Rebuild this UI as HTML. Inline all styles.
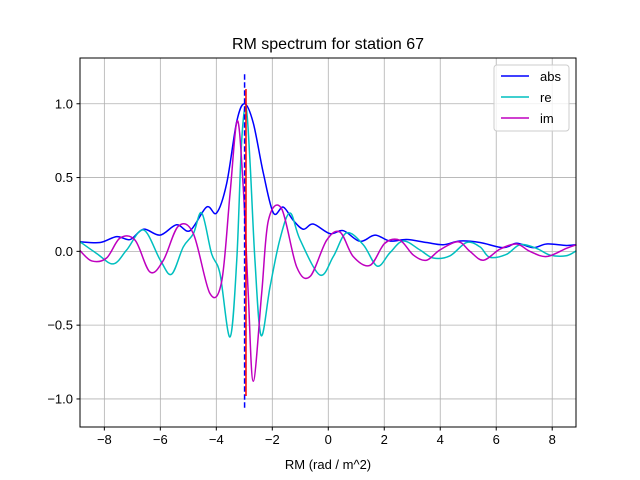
<!DOCTYPE html>
<html><head><meta charset="utf-8"><style>
body{margin:0;background:#fff}
svg{display:block;font-family:"Liberation Sans","DejaVu Sans",sans-serif}
</style></head><body>
<svg id="chart" width="640" height="480">
<rect width="640" height="480" fill="#fff"/>
<g id="grid"></g><g id="series"></g><g id="ticks"></g>
<rect x="80" y="58" width="496" height="369" fill="none" stroke="#000" stroke-width="1"/>
<text x="328" y="49" text-anchor="middle" font-size="16">RM spectrum for station 67</text>
<text x="328" y="469" text-anchor="middle" font-size="13">RM (rad / m^2)</text>
<g>
<rect x="494" y="65" width="75" height="66" rx="3" fill="#fff" fill-opacity="0.8" stroke="#ccc"/>
<g><line x1="501" y1="76" x2="529" y2="76" stroke="#0000ff" stroke-width="1.5"/><text x="540" y="81" font-size="13">abs</text></g>
<g><line x1="501" y1="97" x2="529" y2="97" stroke="#00bfbf" stroke-width="1.5"/><text x="540" y="102" font-size="13">re</text></g>
<g><line x1="501" y1="118" x2="529" y2="118" stroke="#bf00bf" stroke-width="1.5"/><text x="540" y="123" font-size="13">im</text></g>
</g>
</svg>
<script>
const xTicks=[-8,-6,-4,-2,0,2,4,6,8];
const yTicks=[-1.0,-0.5,0.0,0.5,1.0];
const absX=[-8.87,-8.15,-7.56,-7.08,-6.6,-6.01,-5.42,-4.94,-4.35,-3.99,-3.63,-3.27,-2.99,-2.68,-2.32,-1.96,-1.61,-1.25,-0.89,-0.54,0.06,0.54,1.13,1.67,2.2,2.8,3.51,4.11,4.7,5.42,6.25,6.73,7.32,7.8,8.5,8.87];
const absY=[0.065,0.06,0.10,0.08,0.15,0.11,0.18,0.14,0.30,0.26,0.46,0.88,1.0,0.87,0.53,0.26,0.30,0.21,0.15,0.185,0.12,0.14,0.068,0.11,0.07,0.08,0.06,0.045,0.07,0.06,0.025,0.055,0.025,0.05,0.04,0.045];
const reX=[-8.87,-8.27,-7.68,-7.2,-6.6,-6.0,-5.6,-5.18,-4.82,-4.52,-4.17,-3.87,-3.51,-3.27,-3.1,-2.94,-2.8,-2.62,-2.4,-2.08,-1.73,-1.37,-1.01,-0.3,0.18,0.65,1.25,1.75,2.2,2.68,3.27,3.75,4.35,4.94,5.42,5.77,6.37,6.85,7.44,7.92,8.5,8.87];
const reY=[0.065,-0.015,-0.085,0.01,0.145,-0.06,-0.155,0.03,0.12,0.26,-0.015,-0.15,-0.58,-0.06,0.73,0.98,0.62,-0.06,-0.57,-0.24,0.08,0.26,0.08,-0.16,-0.035,0.125,0.045,-0.1,-0.01,0.07,0.01,-0.045,-0.03,0.06,0.03,-0.04,-0.02,0.045,0.02,-0.025,-0.03,0.005];
const imX=[-8.87,-8.45,-7.92,-7.44,-6.9,-6.37,-5.89,-5.36,-4.82,-4.23,-3.81,-3.51,-3.25,-3.04,-2.86,-2.68,-2.38,-2.14,-1.67,-1.13,-0.65,-0.06,0.42,0.89,1.49,2.02,2.56,3.04,3.51,3.99,4.64,5.06,5.54,6.13,6.73,7.2,7.8,8.5,8.87];
const imY=[0.005,-0.065,-0.045,0.09,0.075,-0.14,-0.06,0.17,0.12,-0.285,-0.205,0.39,0.885,0.44,-0.285,-0.88,-0.285,0.21,0.29,-0.105,-0.17,0.075,0.13,-0.035,-0.095,0.055,0.075,-0.025,-0.06,0.01,0.065,0,-0.06,0.015,0.05,0,-0.035,0.02,0.045];
const peakRM=[-2.99];
const peakLine=[1.2,-1.07];
const refRM=[-2.94];
const refLine=[1.1,-0.98];

const X0=80,X1=576,Y0=58,Y1=427,xmin=-8.87,xmax=8.85,ymin=-1.19,ymax=1.31;
const sx=v=>X0+(v-xmin)/(xmax-xmin)*(X1-X0);
const sy=v=>Y1-(v-ymin)/(ymax-ymin)*(Y1-Y0);
const NS="http://www.w3.org/2000/svg";
function mk(tag,attrs,parent){const e=document.createElementNS(NS,tag);for(const k in attrs)e.setAttribute(k,attrs[k]);parent.appendChild(e);return e;}
const grid=document.getElementById('grid'),ticks=document.getElementById('ticks'),ser=document.getElementById('series');
xTicks.forEach(t=>{const x=sx(t);
 const g=mk('line',{x1:x,x2:x,y1:Y0,y2:Y1,stroke:'#b0b0b0','stroke-width':0.8},grid);
 
 
 mk('line',{x1:x,x2:x,y1:Y1,y2:Y1+3.5,stroke:'#000'},ticks);
 const tx=mk('text',{x:x,y:Y1+17,'text-anchor':'middle','font-size':13},ticks);
 tx.textContent=(t<0?'\u2212'+(-t):t);
 
 });
yTicks.forEach(t=>{const y=sy(t);
 const g=mk('line',{x1:X0,x2:X1,y1:y,y2:y,stroke:'#b0b0b0','stroke-width':0.8},grid);
 
 
 mk('line',{x1:X0-3.5,x2:X0,y1:y,y2:y,stroke:'#000'},ticks);
 const tx=mk('text',{x:X0-7,y:y+4.5,'text-anchor':'end','font-size':13},ticks);
 tx.textContent=(t<0?'\u2212'+(-t).toFixed(1):t.toFixed(1));
 
 });
function smooth(xs,ys){const p=xs.map((x,i)=>[sx(x),sy(ys[i])]);let d='M'+p[0][0]+','+p[0][1];
 for(let i=0;i<p.length-1;i++){const a=p[Math.max(0,i-1)],b=p[i],c=p[i+1],e=p[Math.min(p.length-1,i+2)];
 const c1=[b[0]+(c[0]-a[0])/6,b[1]+(c[1]-a[1])/6],c2=[c[0]-(e[0]-b[0])/6,c[1]-(e[1]-b[1])/6];
 d+=' C'+c1[0]+','+c1[1]+' '+c2[0]+','+c2[1]+' '+c[0]+','+c[1];}return d;}
const abs=mk('path',{d:smooth(absX,absY),fill:'none',stroke:'#0000ff','stroke-width':1.5},ser);


const re=mk('path',{d:smooth(reX,reY),fill:'none',stroke:'#00bfbf','stroke-width':1.5},ser);


const im=mk('path',{d:smooth(imX,imY),fill:'none',stroke:'#bf00bf','stroke-width':1.5},ser);


const pl=mk('line',{x1:sx(peakRM[0]),x2:sx(peakRM[0]),y1:sy(peakLine[0]),y2:sy(peakLine[1]),stroke:'#0000ff','stroke-width':1.5,'stroke-dasharray':'5.5,2.5'},ser);


const rl=mk('line',{x1:sx(refRM[0]),x2:sx(refRM[0]),y1:sy(refLine[0]),y2:sy(refLine[1]),stroke:'#ff0000','stroke-width':1.5},ser);


</script>
</body></html>
